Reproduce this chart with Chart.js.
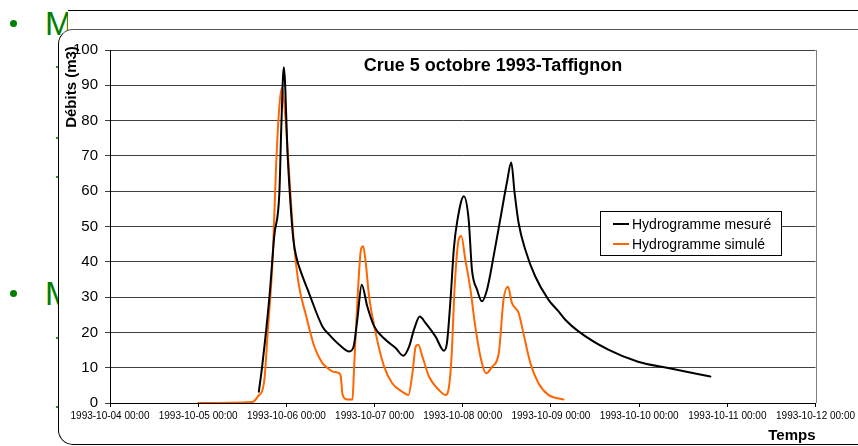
<!DOCTYPE html>
<html>
<head>
<meta charset="utf-8">
<script src="https://cdn.jsdelivr.net/npm/chart.js@4/dist/chart.umd.min.js"></script>
<style>
  html, body { margin: 0; padding: 0; background: #fff; }
  #page { position: relative; width: 858px; height: 446px; overflow: hidden; font-family: "Liberation Sans", Arial, sans-serif; }
  .dot { position: absolute; width: 7px; height: 7px; border-radius: 50%; background: #008000; }
  .big { position: absolute; font-size: 33px; line-height: 1; color: #008000; }
  .mark { position: absolute; width: 2px; height: 2px; background: #2a9a2a; }
  #back { position: absolute; left: 68px; top: 10px; width: 800px; height: 60px; background: #fff; border-top: 1.5px solid #000; }
  #box { position: absolute; left: 58px; top: 29px; width: 820px; height: 414px; background: #fff;
         border: 1.5px solid #000; border-top-color: #555; border-radius: 15px 0 0 15px; }
  #c { position: absolute; left: 0; top: 0; }
</style>
</head>
<body>
<div id="page">
  <div class="dot" style="left:10px; top:20px;"></div>
  <span class="big" style="left:45px; top:7px;">M</span>
  <div class="dot" style="left:10px; top:290px;"></div>
  <span class="big" style="left:45px; top:277px;">M</span>
  <div id="back"></div>
  <div class="mark" style="left:56px; top:66px;"></div>
  <div class="mark" style="left:56px; top:137px;"></div>
  <div class="mark" style="left:56px; top:176px;"></div>
  <div class="mark" style="left:56px; top:337px;"></div>
  <div class="mark" style="left:56px; top:406px;"></div>
  <div id="box"></div>
  <canvas id="c" width="858" height="446"></canvas>
</div>
<script>
// Hours since 1993-10-04 00:00 and discharge (m3/s)
const measuredHours = [40.5, 41.4, 43.4, 44.7, 46.1, 46.6, 47.3, 48.4, 49.9, 50.9, 51.5, 54.2, 57.8, 59.7, 62.4,
  65.1, 66.3, 67.3, 68.5, 70, 71.9, 75, 77.8, 79.8, 81.4, 82.7, 84.3, 85.9, 88.6, 90.9, 91.7, 92.6, 93.6, 94.5,
  96.3, 97.6, 98.5, 99.9, 101.2, 102.6, 104.4, 106.2, 108, 109.2, 110.1, 111.2, 113, 115.7, 119.3, 122, 123.9,
  127.5, 135.6, 143.7, 151.9, 163.4];
const measuredFlow = [3.2, 10.3, 30.2, 47.3, 59.7, 77.6, 95.1, 69, 46.3, 40.6, 38.5, 31, 21.7, 19.3, 16.5,
  14.6, 16, 23.6, 33.5, 27.4, 21.7, 17.9, 15.5, 13.4, 16, 20.7, 24.5, 22.6, 18.8, 14.8, 17, 28.3, 44, 51.5,
  58.6, 52, 37.8, 32.1, 28.8, 32.1, 41.6, 52, 62.4, 68.1, 59.6, 51, 43.5, 35.9, 29.3, 26, 23.6,
  20.3, 15.1, 11.7, 9.9, 7.5];

const simulatedHours = [24, 38.8, 40.2, 42, 42.9, 44.3, 45.2, 46.1, 46.8, 47.7, 48.8, 49.9, 51.3, 53.3, 55.6,
  57.8, 58.8, 60.6, 62.4, 62.8, 63.3, 64.6, 66, 66.4, 67.3, 68.3, 68.9, 69.6, 70.5, 72.3, 74.6, 76.8, 79.5,
  81.2, 82.3, 83.2, 83.9, 85, 86.8, 89.5, 91.3, 92, 92.9, 93.8, 94.9, 95.6, 96.7, 98.1, 99.4, 100.8, 102.4,
  104, 105.8, 107.1, 108.3, 109.4, 111.2, 112.5, 114.4, 116.6, 119.3, 123.4];
const simulatedFlow = [0, 0.3, 1.8, 6.5, 19.8, 41.6, 67.1, 84.2, 89.4, 81.3, 64.3, 47.3, 34, 25, 16,
  11.3, 10.3, 8.9, 8.4, 7.5, 2.3, 1, 1, 9.4, 28.3, 43.5, 44.4, 39.7, 30.2, 19.8, 10.3, 5.6, 3.2,
  2.3, 8.4, 16, 16.5, 13.2, 7.5, 3.7, 2.3, 3.2, 12.2, 33, 46.3, 47.3, 40.6, 32.1, 21.7, 13.2, 8.4,
  10.3, 14.1, 29.3, 32.9, 28.3, 25.5, 19.8, 11.3, 5.6, 2.3, 1];

const tickLabels = ['1993-10-04 00:00', '1993-10-05 00:00', '1993-10-06 00:00', '1993-10-07 00:00',
  '1993-10-08 00:00', '1993-10-09 00:00', '1993-10-10 00:00', '1993-10-11 00:00', '1993-10-12 00:00'];

const seriesNames = ['Hydrogramme mesuré', 'Hydrogramme simulé'];
const chartTitle = 'Crue 5 octobre 1993-Taffignon';
const yTitle = 'Débits (m3)';
const xTitle = 'Temps';

const FONT = '"Liberation Sans", Arial, sans-serif';
const zip = (xs, ys) => xs.map((x, i) => ({ x: x, y: ys[i] }));

const decorations = {
  id: 'decorations',
  afterDraw(chart) {
    const { ctx, chartArea: a } = chart;
    ctx.save();
    // right frame of the plot area
    ctx.strokeStyle = '#808080';
    ctx.lineWidth = 1;
    ctx.beginPath();
    ctx.moveTo(Math.round(a.right) + 0.5, a.top);
    ctx.lineTo(Math.round(a.right) + 0.5, a.bottom);
    ctx.stroke();

    ctx.fillStyle = '#000';
    // chart title
    ctx.font = 'bold 18px ' + FONT;
    ctx.textAlign = 'center';
    ctx.textBaseline = 'middle';
    ctx.fillText(chartTitle, 493, 66);

    // axis titles
    ctx.font = 'bold 15px ' + FONT;
    ctx.save();
    ctx.translate(72, 87);
    ctx.rotate(-Math.PI / 2);
    ctx.fillText(yTitle, 0, 0);
    ctx.restore();
    ctx.textAlign = 'right';
    ctx.fillText(xTitle, a.right, 436);

    // legend
    const lx = 600.5, ly = 211.5, lw = 181, lh = 44;
    ctx.fillStyle = '#fff';
    ctx.fillRect(lx, ly, lw, lh);
    ctx.strokeStyle = '#000';
    ctx.strokeRect(lx, ly, lw, lh);
    ctx.font = '14px ' + FONT;
    ctx.textAlign = 'left';
    chart.data.datasets.forEach((ds, i) => {
      const y = 224 + i * 20;
      ctx.strokeStyle = ds.borderColor;
      ctx.lineWidth = 2;
      ctx.beginPath();
      ctx.moveTo(613, y);
      ctx.lineTo(629, y);
      ctx.stroke();
      ctx.fillStyle = '#000';
      ctx.fillText(ds.label, 632, y + 1);
    });
    ctx.restore();
  }
};

new Chart(document.getElementById('c'), {
  type: 'line',
  data: {
    datasets: [
      { label: seriesNames[0], data: zip(measuredHours, measuredFlow), borderColor: '#000000', borderWidth: 2 },
      { label: seriesNames[1], data: zip(simulatedHours, simulatedFlow), borderColor: '#ff6600', borderWidth: 2 }
    ]
  },
  options: {
    responsive: false,
    animation: false,
    devicePixelRatio: 1,
    layout: { padding: { left: 0, top: 50, right: 40, bottom: 0 } },
    elements: {
      point: { radius: 0 },
      line: { cubicInterpolationMode: 'monotone', borderJoinStyle: 'round', borderCapStyle: 'round' }
    },
    plugins: { legend: { display: false }, title: { display: false }, tooltip: { enabled: false } },
    scales: {
      x: {
        type: 'linear',
        min: 0, max: 192,
        afterFit: s => { s.height = 43; },
        grid: { drawOnChartArea: false, drawTicks: true, tickLength: 4, color: '#000' },
        border: { color: '#000', width: 1 },
        ticks: {
          stepSize: 24, autoSkip: false, maxRotation: 0, minRotation: 0, padding: 3,
          color: '#000', font: { family: FONT, size: 10 },
          callback: v => tickLabels[Math.round(v / 24)] ?? ''
        }
      },
      y: {
        min: 0, max: 100,
        afterFit: s => { s.width = 110; },
        grid: { color: '#404040', lineWidth: 1, tickLength: 5 },
        border: { color: '#000', width: 1 },
        ticks: { stepSize: 10, color: '#000', padding: 7, font: { family: FONT, size: 15 } }
      }
    }
  },
  plugins: [decorations]
});
</script>
</body>
</html>
